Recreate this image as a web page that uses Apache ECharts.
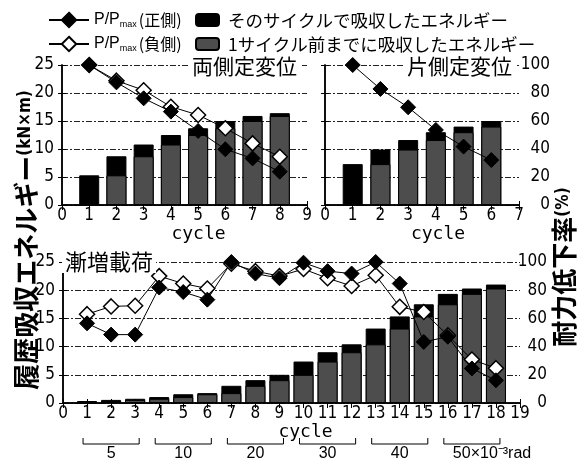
<!DOCTYPE html>
<html><head><meta charset="utf-8">
<script src="https://cdn.jsdelivr.net/npm/echarts@6/dist/echarts.min.js"></script>
<style>html,body{margin:0;padding:0;background:#fff}#c{width:586px;height:464px}</style>
</head><body><div id="c"></div><script>
// 両側定変位
const bothCycles = [1, 2, 3, 4, 5, 6, 7, 8];
const bothPrior  = [0, 5.3, 8.7, 10.8, 12.5, 13.7, 15.0, 15.9];
const bothThis   = [5.3, 3.4, 2.1, 1.7, 1.2, 1.3, 0.9, 0.5];
const bothPos    = [100, 87.6, 76.2, 66.7, 52.9, 39.8, 33.3, 23.8];
const bothNeg    = [100, 88.8, 82.0, 70.2, 64.3, 54.8, 44.0, 34.5];
// 片側定変位
const oneCycles = [1, 2, 3, 4, 5, 6];
const onePrior  = [0, 7.3, 9.9, 11.6, 13.0, 14.0];
const oneThis   = [7.3, 2.6, 1.7, 1.4, 1.0, 1.0];
const onePos    = [100, 82.9, 69.8, 53.6, 41.7, 32.1];
// 漸増載荷
const incCycles = [1, 2, 3, 4, 5, 6, 7, 8, 9, 10, 11, 12, 13, 14, 15, 16, 17, 18];
const incPrior  = [0, 0.35, 0.55, 0.75, 1.05, 1.55, 1.75, 3.05, 4.05, 5.0, 7.35, 9.0, 10.4, 13.2, 15.35, 17.5, 19.35, 20.3];
const incThis   = [0.35, 0.2, 0.2, 0.3, 0.5, 0.2, 1.3, 1.0, 0.95, 2.35, 1.65, 1.4, 2.8, 2.15, 2.15, 1.85, 0.95, 0.7];
const incPos    = [56.5, 48.5, 48.5, 81.9, 78.7, 73.3, 100, 91.8, 88.5, 99.5, 93.5, 91.8, 100, 84.7, 43.3, 47.0, 24.5, 16.1];
const incNeg    = [63.0, 68.5, 69.0, 90.0, 84.7, 81.2, 98.8, 93.5, 90.0, 95.0, 88.5, 83.0, 90.6, 68.2, 64.5, 48.0, 30.8, 24.7];
// 部材角の区分（サイクル範囲）
const stepRanges = [[1, 3], [4, 6], [7, 9], [10, 12], [13, 15], [16, 18]];
const stepLabels = ['5', '10', '20', '30', '40', '50×10⁻³rad'];

const NAME_POS = 'P/Pmax(正側)';
const NAME_NEG = 'P/Pmax(負側)';
const NAME_THIS = 'そのサイクルで吸収したエネルギー';
const NAME_PRIOR = '1サイクル前までに吸収したエネルギー';

const JP = "'Noto Sans CJK JP', sans-serif";
const NUM = "'Liberation Sans Narrow', 'DejaVu Sans Condensed', 'Liberation Sans', sans-serif";

const dashDot = [6, 2, 2, 2];

function xBottom(grid, max, name, shift) {
  return {
    type: 'value', gridIndex: grid, position: 'bottom', min: 0, max: max, interval: 1,
    axisLine: { lineStyle: { color: '#000', width: 1.5 } },
    axisTick: { inside: true, length: 4, lineStyle: { color: '#000' } },
    axisLabel: { color: '#000', fontFamily: NUM, fontSize: 17, margin: 2 },
    splitLine: { show: false },
    name: name, nameLocation: 'middle', nameGap: 20,
    nameTextStyle: { color: '#000', fontFamily: "'DejaVu Sans Mono', monospace", fontSize: 18, padding: [0, 0, 0, shift * 2] }
  };
}
function xTop(grid, max) {
  return {
    type: 'value', gridIndex: grid, position: 'top', min: 0, max: max, interval: 1,
    axisLine: { lineStyle: { color: '#000', width: 1.5 } },
    axisTick: { inside: true, length: 5, lineStyle: { color: '#000' } },
    axisLabel: { show: false }, splitLine: { show: false }
  };
}
function yLeft(grid, labels) {
  return {
    type: 'value', gridIndex: grid, position: 'left', min: 0, max: 25, interval: 5,
    axisLine: { show: true, lineStyle: { color: '#000', width: 1.5 } },
    axisTick: { show: true, inside: true, length: 4, lineStyle: { color: '#000' } },
    axisLabel: { show: labels, color: '#000', fontFamily: NUM, fontSize: 17, margin: 8 },
    splitLine: { show: true, lineStyle: { color: '#222', width: 1, type: dashDot } }
  };
}
function yRight(grid, labels, margin) {
  return {
    type: 'value', gridIndex: grid, position: 'right', min: 0, max: 100, interval: 20,
    axisLine: { show: true, lineStyle: { color: '#000', width: 1.5 } },
    axisTick: { show: true, inside: true, length: 4, lineStyle: { color: '#000' } },
    axisLabel: { show: labels, color: '#000', fontFamily: NUM, fontSize: 17, margin: margin, align: 'right' },
    splitLine: { show: false }
  };
}

function pairs(xs, ys) { return xs.map((x, i) => [x, ys[i]]); }

// 累計（黒）の上に前サイクルまでの累計（灰）を重ねる
function barSeries(grid, cycles, prior, cur) {
  const total = prior.map((p, i) => +(p + cur[i]).toFixed(2));
  return [
    { name: NAME_THIS, type: 'bar', xAxisIndex: grid * 2, yAxisIndex: grid * 2,
      barWidth: 20, barGap: '-100%', data: pairs(cycles, total),
      itemStyle: { color: '#000', borderColor: '#000', borderWidth: 1 } },
    { name: NAME_PRIOR, type: 'bar', xAxisIndex: grid * 2, yAxisIndex: grid * 2,
      barWidth: 20, barGap: '-100%', data: pairs(cycles, prior),
      itemStyle: { color: '#4d4d4d', borderColor: '#000', borderWidth: 1 } }
  ];
}
function lineSeries(grid, cycles, vals, open) {
  return {
    name: open ? NAME_NEG : NAME_POS, type: 'line', xAxisIndex: grid * 2, yAxisIndex: grid * 2 + 1,
    data: pairs(cycles, vals), clip: false, z: 3,
    symbol: 'diamond', symbolSize: 15,
    lineStyle: { color: '#000', width: 1 },
    itemStyle: open ? { color: '#fff', borderColor: '#000', borderWidth: 1.5 } : { color: '#000', borderColor: '#000', borderWidth: 1 }
  };
}

const titleStyle = (size) => ({ fontSize: size, fontWeight: 'normal', fontFamily: JP, color: '#000', lineHeight: 20 });

const legendRich = {
  a: { fontFamily: "'Liberation Sans', sans-serif", fontSize: 16, color: '#000', lineHeight: 18 },
  s: { fontFamily: "'Liberation Sans', sans-serif", fontSize: 9, color: '#000', lineHeight: 18, verticalAlign: 'bottom', padding: [6, 2, 0, 0] },
  j: { fontFamily: JP, fontSize: 16, color: '#000', lineHeight: 18 }
};

const option = {
  animation: false,
  backgroundColor: '#fff',
  grid: [
    { left: 62, top: 65, width: 245, height: 140 },
    { left: 325, top: 65, width: 194, height: 140 },
    { left: 63, top: 262, width: 457, height: 141 }
  ],
  title: [
    { text: '両側定変位', left: 189, top: 55, padding: [1, 3, 0, 3], backgroundColor: '#fff', textStyle: titleStyle(21) },
    { text: '片側定変位', left: 404, top: 55, padding: [1, 3, 0, 3], backgroundColor: '#fff', textStyle: titleStyle(21) },
    { text: '漸増載荷', left: 62, top: 251, padding: [1, 3, 0, 3], backgroundColor: '#fff', textStyle: titleStyle(22) }
  ],
  legend: [
    { left: 43, top: 6, orient: 'vertical', itemWidth: 40, itemHeight: 18, itemGap: 6,
      data: [NAME_POS, NAME_NEG], selectedMode: false,
      lineStyle: { width: 2 },
      formatter: n => n === NAME_POS ? '{a|P/P}{s|max}{j|(正側)}' : '{a|P/P}{s|max}{j|(負側)}',
      textStyle: { rich: legendRich, lineHeight: 18 } },
    { left: 190, top: 6, orient: 'vertical', itemWidth: 23, itemHeight: 12, itemGap: 6,
      data: [NAME_THIS, NAME_PRIOR], selectedMode: false,
      textStyle: { fontFamily: JP, fontSize: 17.5, color: '#000', lineHeight: 18, padding: [0, 0, 0, 4] } }
  ],
  xAxis: [
    xBottom(0, 9, 'cycle', 14), xTop(0, 9),
    xBottom(1, 7, 'cycle', 16), xTop(1, 7),
    xBottom(2, 19, 'cycle', 14), xTop(2, 19)
  ],
  yAxis: [
    yLeft(0, true), yRight(0, false, 30),
    yLeft(1, false), yRight(1, true, 31),
    yLeft(2, true), yRight(2, true, 27)
  ],
  series: [
    ...barSeries(0, bothCycles, bothPrior, bothThis),
    lineSeries(0, bothCycles, bothNeg, true),
    lineSeries(0, bothCycles, bothPos, false),
    ...barSeries(1, oneCycles, onePrior, oneThis),
    lineSeries(1, oneCycles, onePos, false),
    ...barSeries(2, incCycles, incPrior, incThis),
    lineSeries(2, incCycles, incNeg, true),
    lineSeries(2, incCycles, incPos, false)
  ]
};

const chart = echarts.init(document.getElementById('c'), null, { renderer: 'canvas' });
chart.setOption(option);

// 軸名（縦書き）と部材角の区分
const px = v => chart.convertToPixel({ xAxisIndex: 4 }, v);
const graphics = [
  { type: 'text', x: 26, y: 240, rotation: Math.PI / 2,
    style: { text: '{j|履歴吸収エネルギー}{u|(kN×m)}', align: 'center', verticalAlign: 'middle',
      rich: { j: { fontFamily: JP, fontSize: 26, fontWeight: 'bold', fill: '#000' },
              u: { fontFamily: NUM, fontSize: 17, fontWeight: 'bold', fill: '#000' } } } },
  { type: 'text', x: 564, y: 267, rotation: Math.PI / 2,
    style: { text: '{j|耐力低下率}{u|(%)}', align: 'center', verticalAlign: 'middle',
      rich: { j: { fontFamily: JP, fontSize: 26, fontWeight: 'bold', fill: '#000' },
              u: { fontFamily: NUM, fontSize: 17, fontWeight: 'bold', fill: '#000' } } } }
];
stepRanges.forEach((r, i) => {
  const x1 = px(r[0]) - 4, x2 = px(r[1]) + 4;
  graphics.push({ type: 'polyline', shape: { points: [[x1, 438], [x1, 444], [x2, 444], [x2, 438]] },
    style: { stroke: '#000', lineWidth: 1, fill: null } });
  const last = i === stepRanges.length - 1;
  graphics.push({ type: 'text', x: last ? x1 + 9 : (x1 + x2) / 2, y: 454,
    style: { text: stepLabels[i], align: last ? 'left' : 'center', verticalAlign: 'middle',
      fontFamily: "'Liberation Sans', sans-serif", fontSize: 16, fill: '#000' } });
});
chart.setOption({ graphic: graphics });
</script></body></html>
